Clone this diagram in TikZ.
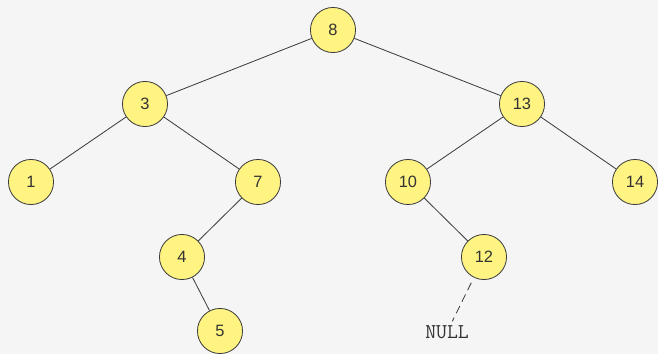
\documentclass[tikz,border=0pt]{standalone}
\usepackage{fontspec}
\setsansfont{Liberation Sans}
\definecolor{nodefill}{RGB}{255,243,130}
\definecolor{nodeline}{RGB}{60,60,60}
\definecolor{bgcolor}{RGB}{245,245,245}
\begin{document}
\begin{tikzpicture}[x=0.03cm,y=-0.03cm,
	treenode/.style={circle,draw=nodeline,fill=nodefill,line width=0.7pt,
	minimum size=38.5pt,inner sep=0pt,font=\sffamily\fontsize{14}{14}\selectfont,text=black!80},
	edge/.style={draw=nodeline,line width=0.7pt}]

		\fill [bgcolor] (0,0) rectangle (658,354);

		\node (n8) at (333,30) [treenode] {8};
		\node (n3) at (145,104) [treenode] {3};
		\node (n13) at (522,104) [treenode] {13};
		\node (n1) at (31,182) [treenode] {1};
		\node (n7) at (258,182) [treenode] {7};
		\node (n10) at (408,182) [treenode] {10};
		\node (n14) at (635,182) [treenode] {14};
		\node (n4) at (182,257) [treenode] {4};
		\node (n12) at (484,257) [treenode] {12};
		\node (n5) at (220,331) [treenode] {5};
		\node (null) at (447,332) [font=\ttfamily\fontsize{18}{18}\selectfont,text=black!80] {NULL};

		\draw [edge] (n8) -- (n3);
		\draw [edge] (n8) -- (n13);
		\draw [edge] (n3) -- (n1);
		\draw [edge] (n3) -- (n7);
		\draw [edge] (n7) -- (n4);
		\draw [edge] (n4) -- (n5);
		\draw [edge] (n13) -- (n10);
		\draw [edge] (n13) -- (n14);
		\draw [edge] (n10) -- (n12);
		\draw [edge,dash pattern=on 7pt off 4pt,shorten <=5pt,shorten >=0pt] (n12) -- (null);

\end{tikzpicture}
\end{document}
